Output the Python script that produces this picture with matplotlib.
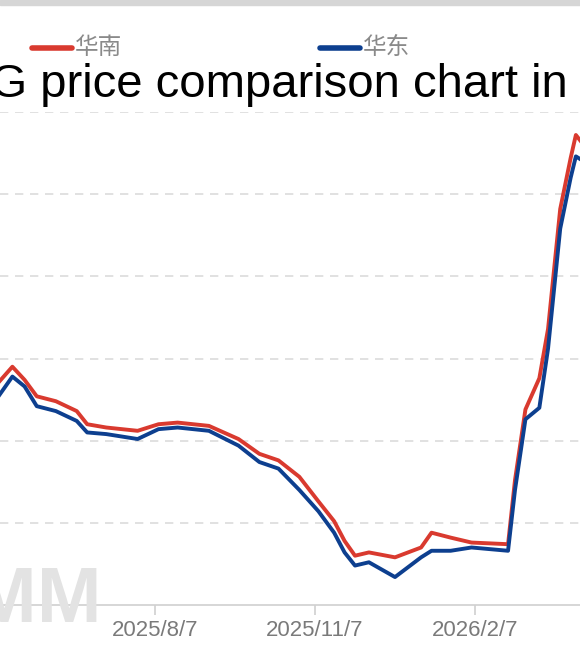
import matplotlib
matplotlib.use("Agg")
import matplotlib.pyplot as plt
from datetime import datetime, timedelta

# data: dates and prices
dates = ["2025-05-01","2025-05-07","2025-05-17","2025-05-24","2025-05-31","2025-06-11","2025-06-23",
         "2025-06-29","2025-07-10","2025-07-28","2025-08-09","2025-08-20","2025-09-07","2025-09-24",
         "2025-10-06","2025-10-17","2025-10-29","2025-11-09","2025-11-18","2025-11-24","2025-11-30",
         "2025-12-08","2025-12-23","2026-01-07","2026-01-13","2026-01-24","2026-02-05","2026-02-26",
         "2026-03-02","2026-03-08","2026-03-16","2026-03-21","2026-03-28","2026-04-03","2026-04-06","2026-04-09"]
south = [4180,4330,4450,4370,4270,4240,4180,4100,4080,4060,4100,4110,4090,4010,3920,3880,3780,3630,3510,3390,
         3300,3320,3290,3350,3440,3410,3380,3370,3760,4190,4380,4680,5410,5720,5860,5820]
east = [4120,4240,4390,4330,4210,4180,4120,4050,4040,4010,4070,4080,4060,3970,3870,3830,3700,3570,3440,3320,
        3240,3260,3170,3290,3330,3330,3350,3330,3700,4130,4200,4560,5290,5600,5730,5710]
xticks = ["2025-05-07","2025-08-07","2025-11-07","2026-02-07","2026-05-07"]
yticks = [3000,3500,4000,4500,5000,5500,6000]

W, H = 580, 665
fig = plt.figure(figsize=(5.8, 6.65), dpi=100)
fig.patch.set_facecolor("white")
ax = fig.add_axes([0, 1-605/H, 1, (605-112)/H])
d = [datetime.fromisoformat(s) for s in dates]
ax.plot(d, south, color="#d93a2f", lw=2.8, solid_joinstyle="round", zorder=3)
ax.plot(d, east, color="#0d3f8f", lw=2.8, solid_joinstyle="round", zorder=4)

for s in ["top", "right", "left"]:
    ax.spines[s].set_visible(False)
ax.spines["bottom"].set_color("#d0d0d0")
ax.spines["bottom"].set_linewidth(1.2)
ax.set_xticks([datetime.fromisoformat(s) for s in xticks])
ax.set_xticklabels([s.replace("-0", "/").replace("-", "/") for s in xticks],
                   fontfamily="Liberation Sans", fontsize=16, color="#7a7a7a")
ax.tick_params(axis="x", length=7, color="#d0d0d0", width=1.2, pad=4)
ax.set_yticks(yticks[1:])
ax.tick_params(axis="y", length=0, labelleft=False)
ax.grid(axis="y", ls=(0, (5, 4)), color="#dcdcdc", lw=1.2)
ax.set_axisbelow(True)

ref = datetime(2025, 8, 7)
ppd = 160/92.0
x0 = ref - timedelta(days=155/ppd)
x1 = ref + timedelta(days=(580-155)/ppd)
ax.set_xlim(x0, x1)
ax.set_ylim(3000, 6000)

# watermark
fig.text(102/W, 1-622/H, "SMM", ha="right", va="baseline", fontsize=56, fontweight="bold",
         color="#e3e3e3", fontfamily="Liberation Sans", zorder=0)

# top grey bar
fig.patches.append(plt.Rectangle((0, 1-5/H), 1, 5/H, transform=fig.transFigure, color="#d6d6d6"))

# title
r = fig.canvas.get_renderer()
tmp = fig.text(0, 0, "LN", fontsize=34, fontfamily="Liberation Sans")
wln = tmp.get_window_extent(renderer=r).width
tmp.remove()
fig.text((-10 - wln)/W, 1-97/H, "LNG price comparison chart in China", fontsize=34,
         fontfamily="Liberation Sans", color="black", va="baseline")

# legend
for x_l, col, lab in [(32, "#d93a2f", "华南"), (320, "#0d3f8f", "华东")]:
    fig.add_artist(plt.Line2D([x_l/W, (x_l+40)/W], [1-48/H, 1-48/H], color=col, lw=4,
                              solid_capstyle="round", transform=fig.transFigure))
    fig.text((x_l+43)/W, 1-47/H, lab, fontsize=17, color="#8a8a8a", va="center",
             fontfamily=["Noto Sans CJK SC", "DejaVu Sans"])

fig.savefig("out.png", dpi=100)
